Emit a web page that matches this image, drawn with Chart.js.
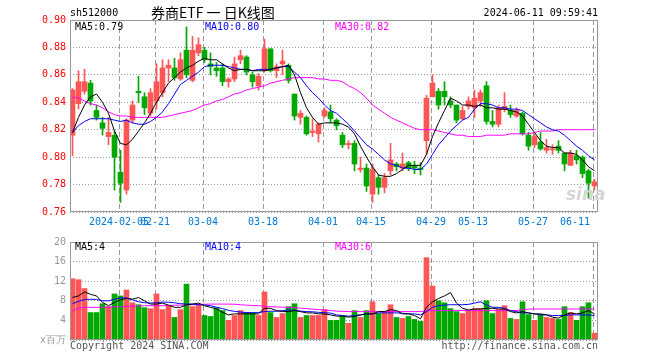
<!DOCTYPE html>
<html><head><meta charset="utf-8">
<script src="https://cdn.jsdelivr.net/npm/chart.js@4.4.1/dist/chart.umd.min.js"></script>
<style>
body{margin:0;background:#fff;width:660px;height:360px;overflow:hidden;position:relative;font-family:"DejaVu Sans Mono",monospace;}
.t{position:absolute;font-size:10px;line-height:12px;white-space:pre;z-index:5;}
canvas{position:absolute;left:0;}
#c1{top:0;}
#c2{top:232px;}
</style></head><body>
<canvas id="c1" width="660" height="232"></canvas>
<canvas id="c2" width="660" height="128"></canvas>
<div class="t" style="left:70px;top:7px;">sh512000</div>
<div class="t" style="left:151px;top:4px;font-family:'Noto Sans CJK SC',sans-serif;font-size:14px;line-height:16px;">券商ETF 一 日K线图</div>
<div class="t" style="right:62px;top:7px;">2024-06-11 09:59:41</div>
<div class="t" style="left:75px;top:21px;color:#000;">MA5:0.79</div>
<div class="t" style="left:205px;top:21px;color:#0000ff;">MA10:0.80</div>
<div class="t" style="left:335px;top:21px;color:#ff00ff;">MA30:0.82</div>
<div class="t" style="left:75px;top:241px;color:#000;">MA5:4</div>
<div class="t" style="left:205px;top:241px;color:#0000ff;">MA10:4</div>
<div class="t" style="left:335px;top:241px;color:#ff00ff;">MA30:6</div>
<div class="t" style="left:70px;top:340px;color:#555;">Copyright 2024 SINA.COM</div>
<div class="t" style="right:62px;top:340px;color:#555;">http://finance.sina.com.cn</div>
<div class="t" style="left:566px;top:184px;color:#d6d6d6;font-family:'DejaVu Sans',sans-serif;font-weight:bold;font-style:italic;font-size:17px;line-height:20px;">sina</div>
<script>
// ---- data ----
const dateIdx = [8,14,22,32,42,50,60,67,77,87];
const dateLabels = ['2024-02-05','02-21','03-04','03-18','04-01','04-15','04-29','05-13','05-27','06-11'];
const priceTicks = [0.76,0.78,0.80,0.82,0.84,0.86,0.88,0.90];
const volTicks = [0,4,8,12,16,20];

const open = [
0.816,0.839,0.848,0.854,0.834,0.825,0.815,0.816,0.789,0.776,
0.827,0.848,0.844,0.832,0.841,0.847,0.865,0.865,0.857,0.878,
0.856,0.876,0.878,0.868,0.865,0.865,0.855,0.857,0.871,0.873,
0.860,0.852,0.863,0.879,0.863,0.868,0.867,0.846,0.829,0.829,
0.818,0.817,0.830,0.833,0.827,0.816,0.809,0.810,0.791,0.792,
0.773,0.785,0.778,0.790,0.795,0.792,0.796,0.7935,0.792,0.812,
0.844,0.848,0.848,0.841,0.838,0.828,0.837,0.836,0.841,0.852,
0.826,0.824,0.835,0.834,0.830,0.832,0.816,0.809,0.811,0.805,
0.8053,0.808,0.803,0.794,0.801,0.800,0.790,0.779];
const high = [
0.850,0.863,0.864,0.856,0.838,0.829,0.829,0.819,0.805,0.828,
0.841,0.859,0.847,0.850,0.868,0.871,0.871,0.872,0.876,0.895,
0.888,0.887,0.880,0.876,0.869,0.868,0.858,0.873,0.878,0.874,
0.862,0.861,0.886,0.879,0.868,0.878,0.868,0.846,0.834,0.830,
0.828,0.825,0.836,0.838,0.828,0.818,0.812,0.812,0.800,0.795,
0.795,0.787,0.788,0.810,0.796,0.803,0.797,0.797,0.796,0.845,
0.860,0.850,0.855,0.844,0.838,0.837,0.844,0.849,0.849,0.855,
0.834,0.838,0.847,0.838,0.836,0.833,0.818,0.817,0.818,0.813,
0.809,0.812,0.803,0.805,0.805,0.801,0.791,0.784];
const low = [
0.801,0.835,0.846,0.838,0.827,0.816,0.809,0.776,0.767,0.773,
0.825,0.840,0.831,0.830,0.835,0.844,0.855,0.856,0.856,0.858,
0.855,0.874,0.869,0.860,0.859,0.852,0.851,0.855,0.868,0.860,
0.851,0.849,0.862,0.862,0.858,0.860,0.854,0.827,0.824,0.816,
0.815,0.811,0.829,0.825,0.820,0.807,0.806,0.790,0.789,0.775,
0.767,0.773,0.774,0.787,0.790,0.790,0.790,0.788,0.787,0.802,
0.844,0.835,0.838,0.836,0.825,0.827,0.835,0.829,0.837,0.824,
0.822,0.822,0.833,0.829,0.829,0.816,0.805,0.807,0.805,0.803,
0.802,0.803,0.790,0.794,0.795,0.785,0.770,0.776];
const close = [
0.849,0.855,0.855,0.841,0.829,0.821,0.818,0.800,0.781,0.827,
0.838,0.847,0.836,0.847,0.855,0.865,0.867,0.858,0.871,0.860,
0.878,0.882,0.871,0.866,0.863,0.855,0.857,0.868,0.874,0.862,
0.855,0.859,0.879,0.863,0.866,0.870,0.856,0.830,0.832,0.817,
0.819,0.824,0.834,0.828,0.823,0.809,0.810,0.795,0.792,0.779,
0.791,0.778,0.785,0.798,0.793,0.795,0.792,0.792,0.791,0.843,
0.854,0.838,0.844,0.838,0.827,0.834,0.841,0.843,0.847,0.826,
0.824,0.836,0.837,0.831,0.834,0.817,0.808,0.815,0.806,0.807,
0.806,0.805,0.795,0.803,0.798,0.788,0.781,0.782];
const ma5 = [
0.818,0.829,0.838,0.844,0.846,0.840,0.832,0.819,0.810,0.809,
0.813,0.819,0.825,0.832,0.840,0.847,0.854,0.858,0.862,0.865,
0.867,0.870,0.872,0.871,0.871,0.868,0.865,0.863,0.864,0.864,
0.863,0.863,0.863,0.864,0.865,0.866,0.867,0.860,0.847,0.836,
0.829,0.824,0.825,0.825,0.825,0.824,0.822,0.817,0.808,0.800,
0.793,0.787,0.786,0.786,0.788,0.791,0.794,0.794,0.794,0.802,
0.815,0.825,0.834,0.843,0.841,0.838,0.838,0.837,0.838,0.836,
0.836,0.835,0.835,0.834,0.833,0.830,0.824,0.818,0.812,0.808,
0.807,0.807,0.803,0.803,0.802,0.798,0.793,0.790];
const ma10 = [
0.818,0.823,0.826,0.828,0.828,0.828,0.828,0.827,0.826,0.827,
0.825,0.824,0.824,0.826,0.829,0.833,0.839,0.846,0.853,0.856,
0.859,0.862,0.866,0.867,0.867,0.867,0.866,0.865,0.864,0.864,
0.863,0.864,0.864,0.864,0.865,0.866,0.866,0.862,0.858,0.852,
0.847,0.843,0.838,0.834,0.832,0.828,0.824,0.819,0.814,0.809,
0.806,0.802,0.798,0.795,0.794,0.792,0.792,0.791,0.791,0.795,
0.802,0.809,0.814,0.819,0.823,0.827,0.829,0.835,0.839,0.839,
0.838,0.836,0.836,0.835,0.835,0.834,0.831,0.828,0.825,0.822,
0.820,0.819,0.816,0.812,0.808,0.805,0.801,0.798];
const ma30 = [
0.844,0.843,0.841,0.839,0.838,0.836,0.833,0.831,0.830,0.830,
0.829,0.829,0.829,0.829,0.829,0.829,0.830,0.831,0.832,0.833,
0.834,0.836,0.838,0.839,0.841,0.842,0.844,0.846,0.847,0.849,
0.850,0.851,0.852,0.854,0.855,0.856,0.857,0.858,0.858,0.858,
0.858,0.857,0.857,0.856,0.856,0.855,0.852,0.850,0.847,0.843,
0.838,0.835,0.832,0.829,0.827,0.825,0.823,0.821,0.820,0.820,
0.820,0.819,0.818,0.817,0.816,0.816,0.815,0.815,0.815,0.816,
0.816,0.816,0.816,0.817,0.817,0.817,0.817,0.818,0.819,0.819,
0.819,0.820,0.820,0.820,0.820,0.820,0.820,0.820];
const vol = [
12.5,12.3,10.5,5.6,5.6,7.4,6.8,9.4,9.0,10.2,
7.6,7.2,6.6,6.4,9.4,6.2,7.0,4.6,6.2,11.4,
6.8,7.2,5.0,4.8,6.6,6.0,4.0,5.0,6.0,5.6,
5.6,5.0,9.8,5.6,4.6,5.4,6.8,7.4,4.6,5.0,
5.0,5.0,6.2,4.0,4.0,4.8,3.4,6.0,4.6,6.0,
7.8,5.4,5.8,7.2,4.6,4.4,4.8,4.2,3.8,16.8,
11.0,8.0,7.6,6.4,5.8,5.4,6.0,6.4,6.4,8.0,
5.4,6.2,7.0,4.4,4.2,7.8,5.2,4.0,5.2,4.6,
4.4,4.2,6.8,5.6,4.0,6.8,7.6,1.4];
const vma5 = [
8.67,9.0,9.8,9.33,9.0,7.67,7.0,7.67,8.2,8.47,
8.33,8.67,8.0,7.33,7.33,7.53,7.13,6.67,6.67,7.2,
7.33,7.53,7.0,6.67,6.33,5.67,5.13,5.33,5.33,5.33,
5.33,5.33,6.47,6.47,6.0,5.8,5.8,6.0,5.8,5.53,
5.53,5.33,5.33,5.13,4.87,4.87,4.67,4.8,5.13,5.33,
5.33,5.8,5.8,6.2,6.0,5.33,5.33,5.0,4.33,6.67,
7.8,8.47,9.0,9.67,7.53,6.47,6.13,6.33,6.33,6.47,
6.47,6.33,6.33,5.8,5.53,5.8,5.53,5.33,5.33,5.13,
4.67,4.47,5.13,5.53,5.33,5.53,6.0,5.33];
const vma10 = [
7.4,7.9,8.25,8.33,8.27,8.0,8.0,8.3,8.6,8.6,
8.2,7.8,7.6,7.55,7.6,7.75,7.7,7.6,7.4,7.33,
7.33,7.2,7.15,7.0,6.7,6.4,6.05,5.85,5.7,5.6,
5.55,5.6,5.8,5.87,5.87,6.0,6.15,6.05,5.9,5.8,
5.75,5.65,5.55,5.5,5.13,5.0,4.87,5.0,5.13,5.33,
5.33,5.53,5.53,5.53,5.53,5.47,5.33,5.33,5.13,5.8,
6.67,7.0,7.13,7.2,7.2,7.2,7.27,7.53,7.8,7.13,
6.67,6.67,6.47,6.0,5.8,5.53,5.53,5.33,5.13,5.13,
5.0,5.0,5.0,5.13,5.13,5.13,5.13,5.0];
const vma30 = [
6.0,6.5,6.67,6.67,6.67,6.67,6.7,6.75,6.8,6.85,
6.9,6.95,7.0,7.0,7.0,7.0,7.05,7.1,7.1,7.15,
7.2,7.25,7.3,7.33,7.33,7.33,7.33,7.3,7.2,7.1,
7.05,7.0,6.9,6.8,6.75,6.7,6.67,6.6,6.5,6.4,
6.3,6.2,6.1,6.0,5.9,5.85,5.8,5.8,5.8,5.8,
5.8,5.8,5.8,5.8,5.8,5.8,5.8,5.8,5.8,5.95,
6.0,6.0,6.0,6.0,6.0,6.0,6.0,6.0,6.0,6.0,
6.0,6.0,6.0,6.0,6.0,6.2,6.3,6.33,6.33,6.33,
6.33,6.33,6.33,6.33,6.33,6.33,6.33,6.33];

// ---- chart ----
const RED = '#ff5555', GREEN = '#00a800';
const X_MIN = -2.5/6, X_MAX = X_MIN + 88;
Chart.defaults.font.family = "'DejaVu Sans Mono', monospace";
Chart.defaults.font.size = 10;
Chart.defaults.animation = false;

const colors = close.map((c,i) => c >= open[i] ? RED : GREEN);
const pts = arr => arr.map((v,i) => ({x:i, y:v}));
const line = (arr, color) => ({type:'line', data:pts(arr), borderColor:color, borderWidth:1, pointRadius:0, tension:0, order:0});

const frame = {id:'frame', afterDraw(c){
  const a = c.chartArea, x = c.ctx; x.save();
  x.strokeStyle = '#999'; x.lineWidth = 1;
  x.strokeRect(a.left+0.5, a.top+0.5, a.right-a.left-1, a.bottom-a.top-1);
  x.restore();
}};

function xAxis(showLabels){
  return {
    type:'linear', min:X_MIN, max:X_MAX, offset:false,
    afterBuildTicks: s => { s.ticks = dateIdx.map(k => ({value:k - 0.25})); },
    afterFit: s => { s.height = 20; },
    grid:{color:'#999', lineWidth:1, drawTicks:false, offset:false},
    border:{display:false, dash:[5,3]},
    ticks:{display:showLabels, autoSkip:false, maxRotation:0, minRotation:0, color:'#0078d7', padding:4,
      callback:(v,i) => dateLabels[i] + (i === dateLabels.length-1 ? '      ' : '')}
  };
}
function yAxis(tickVals, min, max, color, fmt){
  return {
    type:'linear', min:min, max:max,
    afterBuildTicks: s => { s.ticks = tickVals.map(v => ({value:v})); },
    afterFit: s => { s.width = 70; },
    grid:{color:'#999', lineWidth:1, drawTicks:false},
    border:{display:false, dash:[1,2]},
    ticks:{color:color, padding:4, callback:fmt}
  };
}

new Chart(document.getElementById('c1'), {
  type:'bar',
  data:{datasets:[
    line(ma5,'#000000'), line(ma10,'#0000ff'), line(ma30,'#ff00ff'),
    {type:'bar', data:close.map((c,i)=>({x:i, y:[open[i], c]})), backgroundColor:colors, barThickness:5, grouped:false, minBarLength:1, borderWidth:0, order:1},
    {type:'bar', data:close.map((c,i)=>({x:i, y:[low[i], high[i]]})), backgroundColor:colors, barThickness:1, grouped:false, borderWidth:0, order:2}
  ]},
  options:{
    responsive:false, animation:false, devicePixelRatio:1,
    layout:{padding:{left:0, right:62, top:20, bottom:0}},
    plugins:{legend:{display:false}, tooltip:{enabled:false}},
    scales:{ x:xAxis(true), y:yAxis(priceTicks, 0.76, 0.90, '#ff0000', v => v.toFixed(2)) }
  },
  plugins:[frame]
});

new Chart(document.getElementById('c2'), {
  type:'bar',
  data:{datasets:[
    line(vma5,'#000000'), line(vma10,'#0000ff'), line(vma30,'#ff00ff'),
    {type:'bar', data:pts(vol), backgroundColor:colors, barThickness:5, grouped:false, borderWidth:0, order:1}
  ]},
  options:{
    responsive:false, animation:false, devicePixelRatio:1,
    layout:{padding:{left:0, right:62, top:8, bottom:0}},
    plugins:{legend:{display:false}, tooltip:{enabled:false}},
    scales:{ x:xAxis(false), y:yAxis(volTicks, 0, 20, '#999', v => v === 0 ? 'x百万' : String(v)) }
  },
  plugins:[frame]
});
</script>
</body></html>
